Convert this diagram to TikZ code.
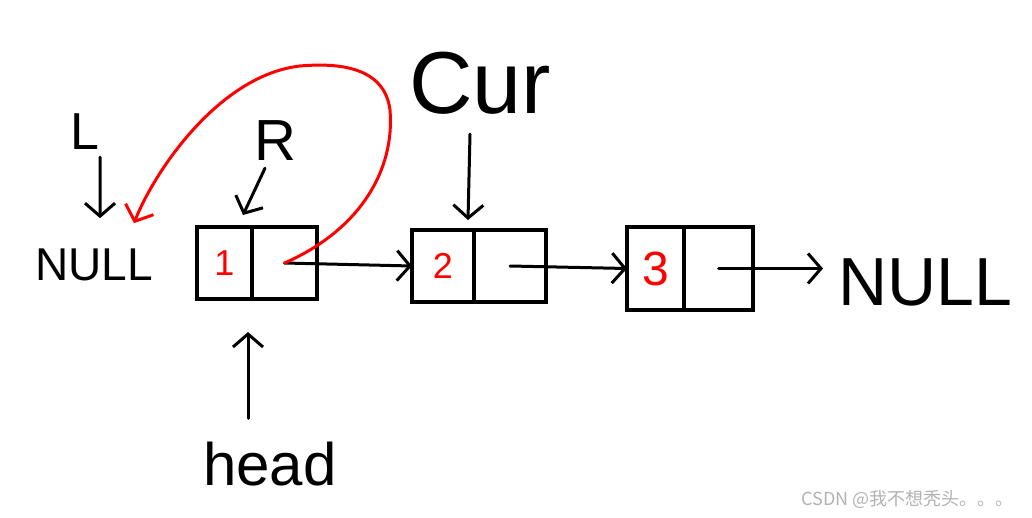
\documentclass[tikz,border=0pt]{standalone}
\usepackage{fontspec}
\setmainfont{Liberation Sans}
\newfontfamily\cjkfont{Noto Sans CJK SC}
\usetikzlibrary{arrows.meta,positioning}

\tikzset{
  cell/.style={draw, line width=4pt, inner sep=0pt, outer sep=0pt,
    minimum height=72pt, text=red, font=\fontsize{36}{36}\selectfont},
  ptr/.style={line width=3pt, line cap=round,
    -{Straight Barb[length=13pt,width=30pt,line width=3pt]}},
  backptr/.style={ptr, red},
  word/.style={inner sep=0pt, anchor=base},
}

\begin{document}
\begin{tikzpicture}[x=1pt, y=-1pt]
  \useasboundingbox (0,0) rectangle (1032,517);
  % the three list cells, value part and next part
  \node[cell, minimum width=55pt] (n1val) at (224.5,263) {1};
  \node[cell, minimum width=65pt, right=0pt of n1val] (n1next) {};
  \node[cell, minimum width=62pt] (n2val) at (443,266) {2};
  \node[cell, minimum width=72pt, right=0pt of n2val] (n2next) {};
  \node[cell, minimum width=57pt, minimum height=83pt,
    font=\fontsize{48}{48}\selectfont] (n3val) at (655.5,268.5) {3};
  \node[cell, minimum width=69pt, minimum height=83pt,
    right=0pt of n3val] (n3next) {};
  % NULL at both ends
  \node[word, anchor=base west, font=\fontsize{46}{46}\selectfont]
    (nullL) at (35,280) {NULL};
  \node[word, anchor=base west, font=\fontsize{68}{68}\selectfont]
    (nullR) at (838,305) {NULL};
  % pointer names
  \node[word, font=\fontsize{52}{52}\selectfont] (L) at (85,149) {L};
  \node[word, font=\fontsize{58}{58}\selectfont] (R) at (275,160) {R};
  \node[word, font=\fontsize{88}{88}\selectfont] (cur) at (480,113) {Cur};
  \node[word, font=\fontsize{60}{60}\selectfont] (head) at (270,485) {head};
  % next links
  \draw[ptr] (n1next.center) -- (n2val.west);
  \draw[ptr] (n2next.center) -- (n3val.west);
  \draw[ptr, shorten >=15pt] (n3next.center) -- (nullR.west |- n3next.center);
  % pointers onto the list
  \draw[ptr] ([xshift=15pt,yshift=-8pt]L.south)
    -- ([xshift=6pt,yshift=30pt]nullL.north);
  \draw[ptr] ([xshift=-10pt,yshift=-8pt]R.south)
    -- ([xshift=-9pt,yshift=12pt]n1val.north east);
  \draw[ptr] ([xshift=-10pt,yshift=-20pt]cur.south)
    -- ([xshift=-6pt,yshift=10pt]n2val.north east);
  \draw[ptr] ([xshift=-22pt,yshift=23pt]head.north)
    -- ([xshift=-4pt,yshift=-33pt]n1val.south east);
  % reversed link of node 1 back to NULL
  \draw[backptr] (n1next.center)
    .. controls (360,230) and (395,170) .. (390,110)
    .. controls (385,70) and (345,62) .. (300,66)
    .. controls (220,75) and (155,170) .. ([xshift=-19pt,yshift=25pt]nullL.north east);
  % watermark
  \node[font=\cjkfont\fontsize{18}{18}\selectfont, text=gray!60, anchor=east]
    (mark) at (1017,500) {CSDN @我不想秃头。。。};
\end{tikzpicture}
\end{document}
